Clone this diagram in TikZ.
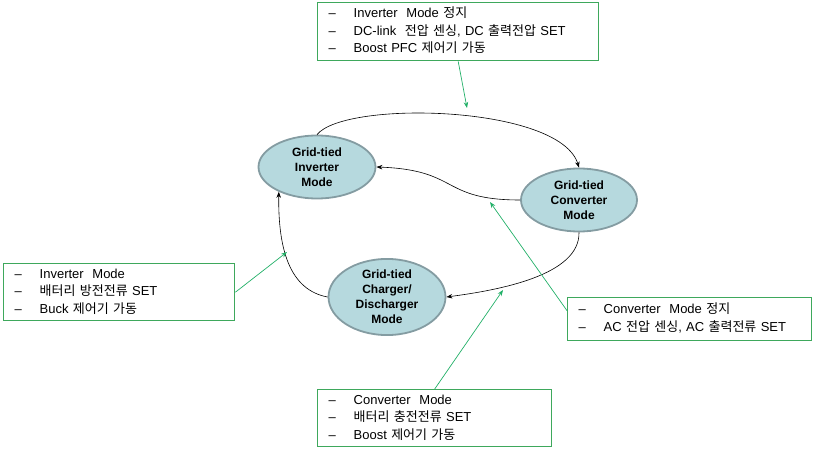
\documentclass[tikz,border=0pt]{standalone}
\usepackage{fontspec}
\setmainfont{Liberation Sans}
\newfontfamily\kofont{Noto Sans CJK KR}
\usetikzlibrary{shapes.geometric,arrows.meta}
\definecolor{modefill}{RGB}{182,217,222}
\definecolor{modedraw}{RGB}{132,156,162}
\definecolor{notegreen}{RGB}{62,168,92}
\definecolor{pointgreen}{RGB}{34,176,104}
\newcommand{\ko}[1]{{\kofont #1}}
\newcommand{\notelines}[1]{\begin{tabular}{@{}p{25pt}@{}l@{}}#1\end{tabular}}
\begin{document}
\begin{tikzpicture}[
    x=1pt, y=-1pt,
    >={Stealth[length=6pt,width=4.5pt]},
    mode/.style = {draw=modedraw, line width=1.8pt, fill=modefill, ellipse,
                   inner sep=0pt, align=center, font=\bfseries\fontsize{12}{15}\selectfont},
    note/.style = {draw=notegreen, line width=1.4pt, rectangle, anchor=north west,
                   inner xsep=11pt, inner ysep=0pt, align=left,
                   font=\fontsize{13}{17.5}\selectfont},
    flow/.style = {->, black, line width=0.6pt},
    hint/.style = {->, pointgreen, line width=0.7pt},
  ]
	\useasboundingbox (0,0) rectangle (814,452);

	% Betriebsarten
	\node (inv) at (317,167) [mode, minimum width=117pt, minimum height=63pt] {Grid-tied\\Inverter\\Mode};
	\node (conv) at (579,200) [mode, minimum width=116pt, minimum height=63pt] {Grid-tied\\Converter\\Mode};
	\node (chg) at (387,297) [mode, minimum width=117pt, minimum height=59pt] {Grid-tied\\Charger/\\Discharger\\Mode};

	% Übergänge
	\draw[flow] (inv.north) .. controls (345,100) and (560,105) .. (conv.north);
	\draw[flow] (conv.west) .. controls (440,200) and (460,170) .. (inv.east);
	\draw[flow] (conv.south) .. controls (580,275) and (500,290) .. (chg.east);
	\draw[flow] (chg.west) .. controls (290,290) and (278,250) .. (inv.213);

	% Erläuterungen
	\node (topnote) at (317,2) [note, text width=259pt, minimum height=58pt]
	  {\notelines{-- & Inverter\ \ Mode \ko{정지}\\ -- & DC-link\ \ \ko{전압 센싱}, DC \ko{출력전압} SET\\ -- & Boost PFC \ko{제어기 가동}}};
	\node (leftnote) at (3,263) [note, text width=209pt, minimum height=57pt]
	  {\notelines{-- & Inverter\ \ Mode\\ -- & \ko{배터리 방전전류} SET\\ -- & Buck \ko{제어기 가동}}};
	\node (rightnote) at (567,297) [note, text width=222pt, minimum height=43pt]
	  {\notelines{-- & Converter\ \ Mode \ko{정지}\\ -- & AC \ko{전압 센싱}, AC \ko{출력전류} SET}};
	\node (botnote) at (317,389) [note, text width=212pt, minimum height=57pt]
	  {\notelines{-- & Converter\ \ Mode\\ -- & \ko{배터리 충전전류} SET\\ -- & Boost \ko{제어기 가동}}};

	% Zeiger
	\coordinate (t1) at (467,108);
	\coordinate (t2) at (287,252);
	\coordinate (t3) at (490,202);
	\coordinate (t4) at (503,290);
	\draw[hint] (topnote.south) -- (t1);
	\draw[hint] (leftnote.east) -- (t2);
	\draw[hint] (rightnote.176) -- (t3);
	\draw[hint] (botnote.north) -- (t4);
\end{tikzpicture}
\end{document}
